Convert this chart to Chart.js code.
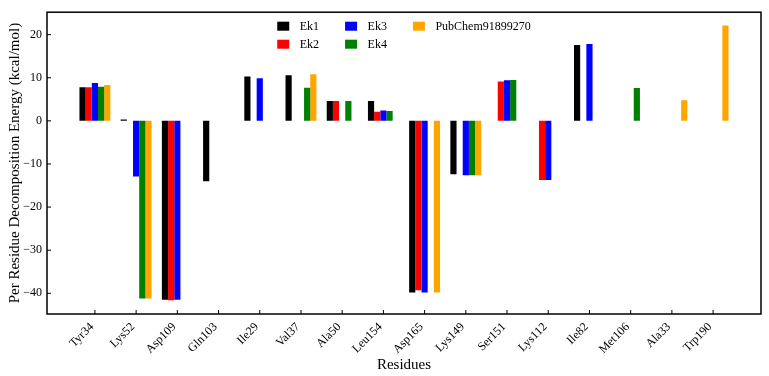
<!DOCTYPE html>
<html>
<head>
<meta charset="utf-8">
<script src="https://cdn.jsdelivr.net/npm/chart.js@4.4.0/dist/chart.umd.min.js"></script>
<style>
    html, body { margin: 0; padding: 0; background: #fff; }
    #energyChart { display: block; }
</style>
</head>
<body>
<canvas id="energyChart" width="769" height="376"></canvas>
<script>
// residues on the x axis
const residues = ['Tyr34', 'Lys52', 'Asp109', 'Gln103', 'Ile29', 'Val37', 'Ala50', 'Leu154',
    'Asp165', 'Lys149', 'Ser151', 'Lys112', 'Ile82', 'Met106', 'Ala33', 'Trp190'];

// per residue energies (kcal/mol), null = no bar
const ek1 = [7.8, 0.3, -41.5, -14.0, 10.3, 10.6, 4.6, 4.6, -39.8, -12.4, null, null, 17.6, null, null, null];
const ek2 = [7.8, null, -41.6, null, null, null, 4.6, 2.1, -39.3, null, 9.1, -13.7, null, null, null, null];
const ek3 = [8.8, -12.9, -41.5, null, 9.9, null, null, 2.4, -39.8, -12.6, 9.4, -13.7, 17.8, null, null, null];
const ek4 = [7.9, -41.2, null, null, null, 7.7, 4.6, 2.3, null, -12.6, 9.5, null, null, 7.6, null, null];
const pubchem = [8.3, -41.2, null, null, null, 10.8, null, null, -39.8, -12.6, null, null, null, null, 4.8, 22.1];

const seriesNames = ['Ek1', 'Ek2', 'Ek3', 'Ek4', 'PubChem91899270'];
const seriesValues = [ek1, ek2, ek3, ek4, pubchem];
const seriesColors = ['#000000', '#ff0000', '#0000ff', '#008000', '#ffa500'];

const yTicks = [-40, -30, -20, -10, 0, 10, 20];

const serif = "'Liberation Serif', 'Times New Roman', serif";

// box around the plot, inward ticks and a column-wise legend
const frameAndLegend = {
    id: 'frameAndLegend',
    afterDraw(chart) {
        const ctx = chart.ctx;
        const area = chart.chartArea;
        const xScale = chart.scales.x;
        const yScale = chart.scales.y;

        ctx.save();
        ctx.strokeStyle = '#000';
        ctx.lineWidth = 1.5;
        ctx.strokeRect(area.left, area.top, area.right - area.left, area.bottom - area.top);

        ctx.lineWidth = 1;
        ctx.beginPath();
        xScale.ticks.forEach(t => {
            const x = xScale.getPixelForValue(t.value);
            ctx.moveTo(x, area.bottom);
            ctx.lineTo(x, area.bottom - 4);
        });
        yScale.ticks.forEach(t => {
            const y = yScale.getPixelForValue(t.value);
            ctx.moveTo(area.left, y);
            ctx.lineTo(area.left + 4, y);
        });
        ctx.stroke();

        // legend: 2 rows, filled column by column
        const rows = 2;
        const boxW = 12, boxH = 9, gap = 10.5, colGap = 26, rowStep = 18;
        ctx.font = '12px ' + serif;
        const cols = Math.ceil(seriesNames.length / rows);
        const colWidths = [];
        for (let c = 0; c < cols; c++) {
            let w = 0;
            for (let r = 0; r < rows; r++) {
                const name = seriesNames[c * rows + r];
                if (name) w = Math.max(w, ctx.measureText(name).width);
            }
            colWidths.push(boxW + gap + w + colGap);
        }
        const total = colWidths.reduce((a, b) => a + b, 0) - colGap;
        let colX = (area.left + area.right) / 2 - total / 2;
        ctx.textBaseline = 'middle';
        ctx.textAlign = 'left';
        for (let c = 0; c < cols; c++) {
            for (let r = 0; r < rows; r++) {
                const i = c * rows + r;
                if (i >= seriesNames.length) continue;
                const y = area.top + 14 + r * rowStep;
                ctx.fillStyle = seriesColors[i];
                ctx.fillRect(colX, y - boxH / 2, boxW, boxH);
                ctx.fillStyle = '#000';
                ctx.fillText(seriesNames[i], colX + boxW + gap, y + 1);
            }
            colX += colWidths[c];
        }
        ctx.restore();
    }
};

const datasets = seriesNames.map((name, s) => ({
    label: name,
    data: seriesValues[s].map((v, i) => ({ x: i, y: v })),
    backgroundColor: seriesColors[s],
    borderWidth: 0,
    categoryPercentage: 0.75,
    barPercentage: 1.0
}));

new Chart(document.getElementById('energyChart'), {
    type: 'bar',
    data: { datasets: datasets },
    plugins: [frameAndLegend],
    options: {
        responsive: false,
        animation: false,
        devicePixelRatio: 1,
        layout: { padding: { top: 8, right: 8, left: 0, bottom: 0 } },
        plugins: {
            legend: { display: false },
            tooltip: { enabled: false }
        },
        scales: {
            x: {
                type: 'linear',
                offset: false,
                min: -1.1625,
                max: 16.1625,
                grid: { display: false, drawTicks: false },
                border: { display: false },
                afterBuildTicks: axis => {
                    axis.ticks = residues.map((r, i) => ({ value: i }));
                },
                afterFit: axis => { axis.height = 62; },
                ticks: {
                    autoSkip: false,
                    maxRotation: 45,
                    minRotation: 45,
                    padding: 6,
                    labelOffset: -3,
                    color: '#000',
                    font: { family: serif, size: 12 },
                    callback: value => residues[value]
                },
                title: {
                    display: true,
                    text: 'Residues',
                    color: '#000',
                    font: { family: serif, size: 15 },
                    padding: { top: 0, bottom: 2 }
                }
            },
            y: {
                min: -44.8,
                max: 25.2,
                grid: { display: false, drawTicks: false },
                border: { display: false },
                afterBuildTicks: axis => {
                    axis.ticks = yTicks.map(v => ({ value: v }));
                },
                afterFit: axis => { axis.width = 47; },
                ticks: {
                    padding: 5,
                    color: '#000',
                    font: { family: serif, size: 12 },
                    callback: value => String(value).replace('-', '\u2212')
                },
                title: {
                    display: true,
                    text: 'Per Residue Decomposition Energy (kcal/mol)',
                    color: '#000',
                    font: { family: serif, size: 15 },
                    padding: { top: 6, bottom: 0 }
                }
            }
        }
    }
});
</script>
</body>
</html>
